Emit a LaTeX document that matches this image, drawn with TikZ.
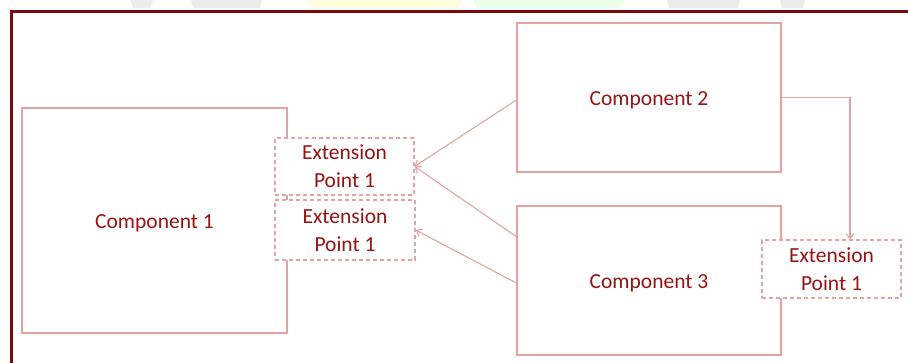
\documentclass[tikz,border=0pt]{standalone}
\usepackage{fontspec}
\setmainfont{Carlito}
\usetikzlibrary{arrows.meta,calc}
\definecolor{frame}{HTML}{7A0A0A}
\definecolor{boxline}{HTML}{E3A3A3}
\definecolor{txt}{HTML}{951515}
\tikzset{
  comp/.style={draw=boxline, line width=1.2pt, fill=white, text=txt, font=\fontsize{21.5}{28}\selectfont, inner sep=0pt},
  complabel/.style={text=txt, font=\fontsize{21.5}{28}\selectfont, yshift=-3pt},
  ext/.style={comp, dashed, dash pattern=on 4pt off 3pt, align=center},
  arr/.style={draw=boxline, line width=1.1pt, -{Straight Barb[length=5pt,width=8pt]}}
}
\begin{document}
\begin{tikzpicture}[x=1pt,y=-1pt]
\useasboundingbox (0,0) rectangle (908,363);
% faint fragments at top edge
\fill[gray!15] (130,0) -- (153,0) -- (150,8) -- (133,8) -- cycle;
\fill[gray!15] (191,0) -- (262,0) -- (260,8) -- (193,8) -- cycle;
\fill[yellow!12] (308,0) -- (462,0) -- (458,8) -- (312,8) -- cycle;
\fill[green!8] (473,0) -- (625,0) -- (621,8) -- (477,8) -- cycle;
\fill[gray!15] (667,0) -- (740,0) -- (738,8) -- (669,8) -- cycle;
\fill[gray!15] (780,0) -- (805,0) -- (803,8) -- (782,8) -- cycle;
% frame
\draw[frame, line width=3pt] (11,363) -- (11,12) -- (908,12);
% components
\node[comp, minimum width=265pt, minimum height=225pt, label={[complabel]center:Component 1}] (c1) at (154.5,220.5) {};
\node[comp, minimum width=264pt, minimum height=149pt, label={[complabel]center:Component 2}] (c2) at (649,97.5) {};
\node[comp, minimum width=264pt, minimum height=149pt, label={[complabel]center:Component 3}] (c3) at (649,280.5) {};
% extension points
\node[ext, minimum width=139pt, minimum height=57pt] (ea) at (344.5,166.5) {Extension\\Point 1};
\node[ext, minimum width=140pt, minimum height=60pt] (eb) at (345,230) {Extension\\Point 1};
\node[ext, minimum width=139pt, minimum height=58pt] (ec) at (831.5,269) {Extension\\Point 1};
% connectors
\draw[arr] ([yshift=-2.5pt]c2.west) -- (ea.east);
\draw[arr] ($(c3.north west)!0.208!(c3.south west)$) -- (ea.east);
\draw[arr] ([yshift=-2.5pt]c3.west) -- (eb.east);
\draw[arr] (c2.east) -| ([xshift=18.5pt]ec.north);
\end{tikzpicture}
\end{document}
